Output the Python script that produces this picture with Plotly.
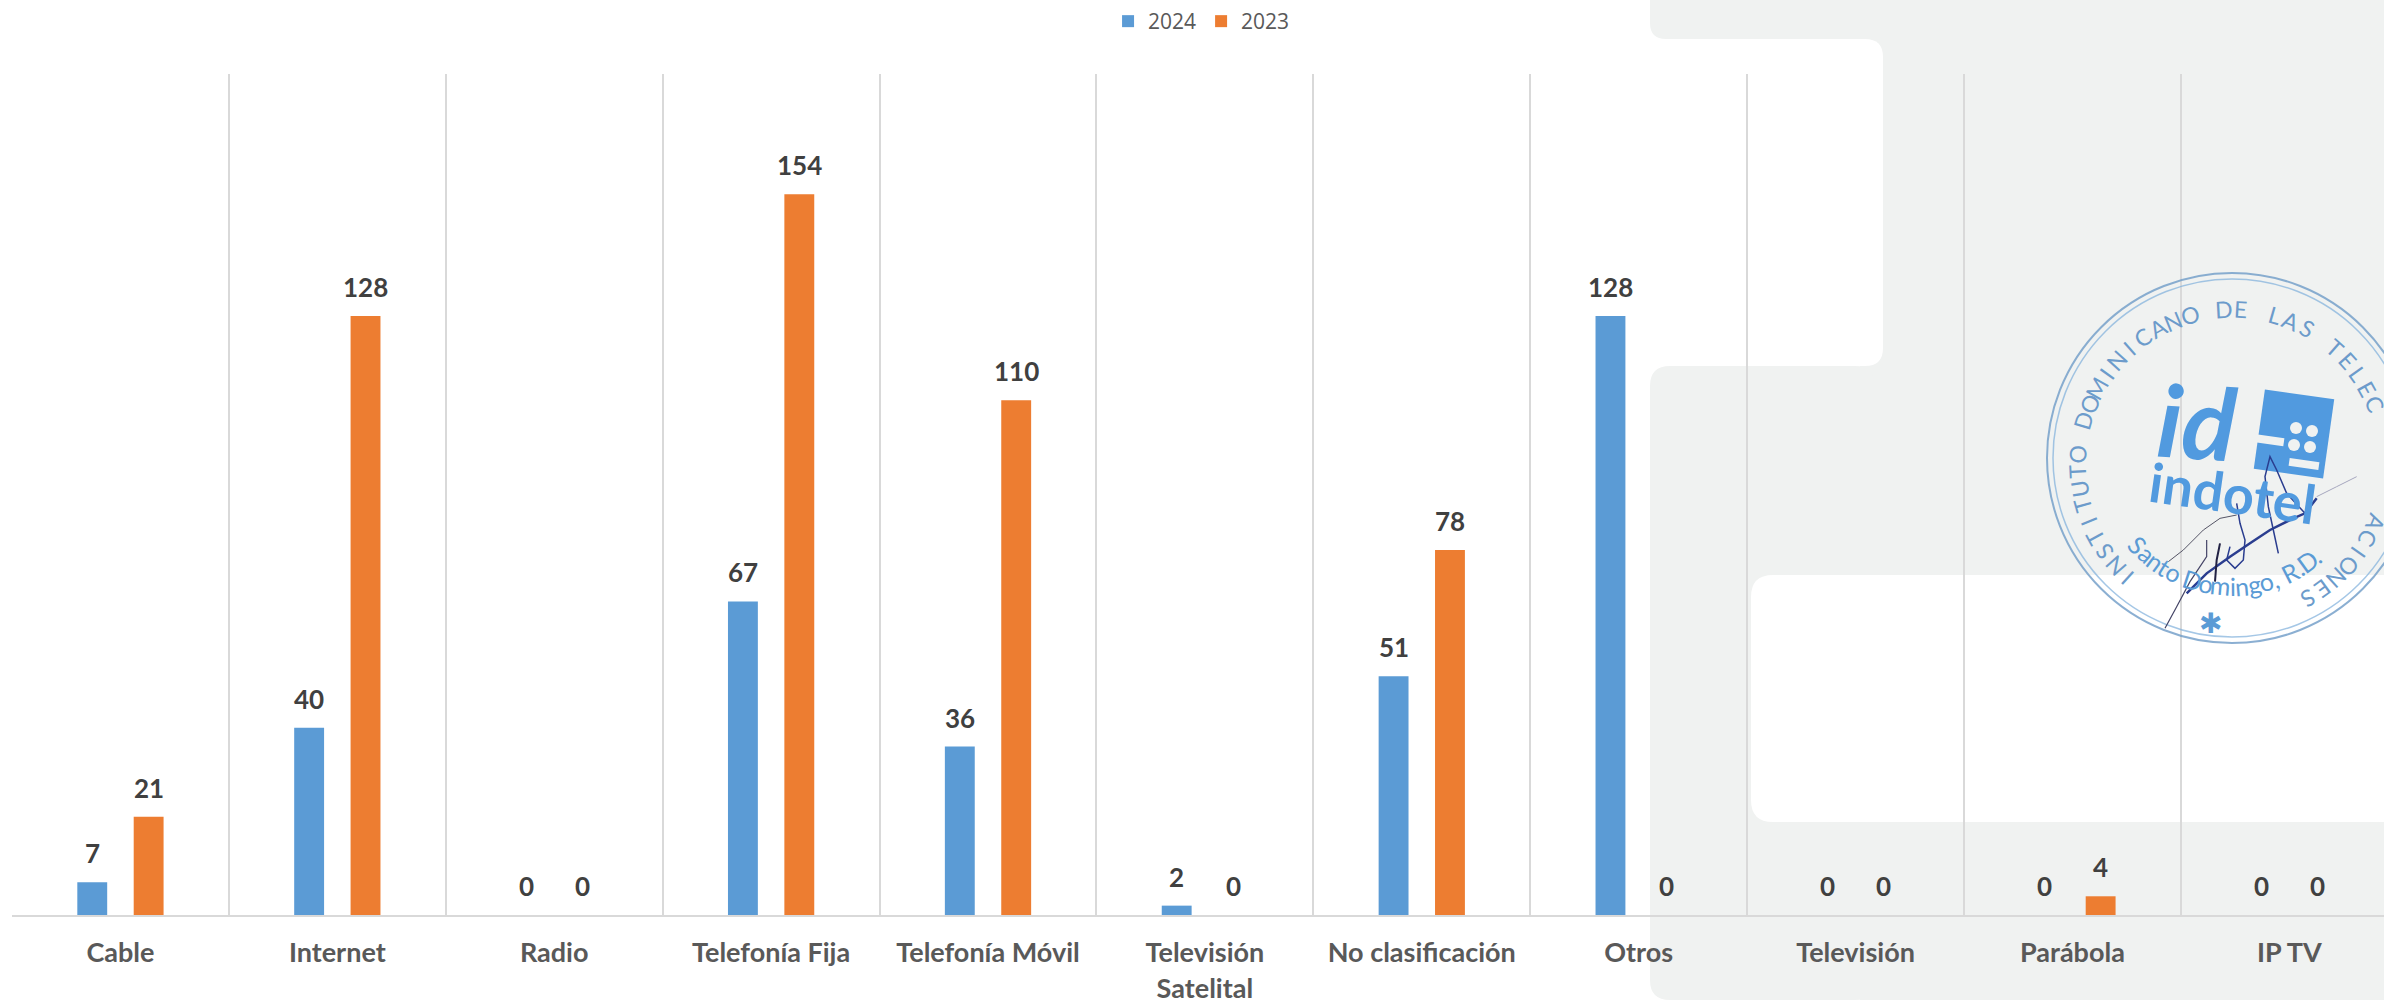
import math
import plotly.graph_objects as go

categories = ["Cable", "Internet", "Radio", "Telefonía Fija", "Telefonía Móvil",
              "Televisión<br>Satelital", "No clasificación", "Otros", "Televisión",
              "Parábola", "IP TV"]
values_2024 = [7, 40, 0, 67, 36, 2, 51, 128, 0, 0, 0]
values_2023 = [21, 128, 0, 154, 110, 0, 78, 0, 0, 4, 0]
series_names = ["2024", "2023"]

W, H = 2384, 1000
ML, MT, MB = 12, 74, 85
PW, PH = W - ML, H - MT - MB
BLUE, ORANGE = "#5B9BD5", "#ED7D31"
PANEL = "#F0F2F1"
STAMP_TEXT = "#6C9BCB"
LOGO = "#519ADF"
INK = "#2A3D8F"


def fx(x):
    return (x - ML) / PW


def fy(y):
    return (H - MB - y) / PH


fig = go.Figure()
annotations = []
for name, vals, col, shift in ((series_names[0], values_2024, BLUE, -28.2),
                               (series_names[1], values_2023, ORANGE, 28.2)):
    fig.add_bar(name=name, x=categories, y=vals, marker_color=col, marker_line_width=0)
    for c, v in zip(categories, vals):
        annotations.append(dict(x=c, y=v, xref="x", yref="y", text=str(v), showarrow=False,
                                xshift=shift, yshift=29, xanchor="center", yanchor="middle",
                                font=dict(family="Lato", size=26, color="#404040", weight="bold")))


def panel(x0, y0, x1, y1, r, fill):
    ax, ay, bx, by = fx(x0), fy(y0), fx(x1), fy(y1)
    rx, ry = r / PW, r / PH
    path = (f"M{ax+rx},{ay} L{bx-rx},{ay} Q{bx},{ay} {bx},{ay-ry} L{bx},{by+ry} Q{bx},{by} {bx-rx},{by} "
            f"L{ax+rx},{by} Q{ax},{by} {ax},{by+ry} L{ax},{ay-ry} Q{ax},{ay} {ax+rx},{ay} Z")
    return dict(type="path", path=path, xref="paper", yref="paper", fillcolor=fill,
                line_width=0, layer="below")


shapes = [
    panel(1860, -40, 2500, 1040, 0, PANEL),
    panel(1630, 39, 1883, 366, 18, "#FFFFFF"),
    panel(1650, -40, 1875, 39, 16, PANEL),
    panel(1650, 366, 1875, 1000, 20, PANEL),
    panel(1751, 575, 2500, 822, 22, "#FFFFFF"),
]

# stamp rings
SX, SY = 2232, 458


def ring(rad, wd, col, op):
    shapes.append(dict(type="circle", xref="paper", yref="paper",
                       x0=fx(SX - rad), x1=fx(SX + rad), y0=fy(SY + rad), y1=fy(SY - rad),
                       line=dict(color=col, width=wd), opacity=op, layer="above"))


ring(185, 2, "#6F9CC8", 0.8)
ring(179, 1.5, "#7FB0DC", 0.7)


def ann(x, y, text, size, color, rot=0, weight="normal", family="Lato", op=1):
    annotations.append(dict(x=fx(x), y=fy(y), xref="paper", yref="paper", text=text, showarrow=False,
                            textangle=rot, xanchor="center", yanchor="middle", opacity=op,
                            font=dict(family=family, size=size, color=color, weight=weight)))


ring_text = "INSTITUTO DOMINICANO DE LAS TELECOMUNICACIONES"
for i, ch in enumerate(ring_text):
    a = 222.5 + 6.4 * i
    x = SX + 155 * math.sin(math.radians(a))
    y = SY + 6 - 155 * math.cos(math.radians(a))
    if ch != " " and x < W - 6:
        ann(x, y, ch, 23, STAMP_TEXT, rot=a)

city_text = "Santo Domingo, R.D."
advance = {"i": 0.55, ".": 0.5, ",": 0.5, " ": 0.6, "m": 1.5, "D": 1.2, "R": 1.1, "t": 0.75}
steps = [advance.get(ch, 1.0) for ch in city_text]
total = sum(steps)
pos = 0.0
for ch, st in zip(city_text, steps):
    a = 230 - 92 * (pos + st / 2) / total
    pos += st
    x = SX + 128 * math.sin(math.radians(a))
    y = SY - 128 * math.cos(math.radians(a))
    if ch != " ":
        ann(x, y, ch, 25, BLUE, rot=a - 180)

ann(2197, 420, "<i>id</i>", 100, LOGO, rot=4, weight="bold")
ann(2232, 492, "indotel", 54, LOGO, rot=8, weight="bold")
ann(2210, 623, "✱", 28, BLUE, family="DejaVu Sans")


# logo square, tilted
def tilted(cx, cy, w, h, angle, fill):
    t = math.radians(angle)
    pts = [(-w / 2, -h / 2), (w / 2, -h / 2), (w / 2, h / 2), (-w / 2, h / 2)]
    xy = [(cx + a * math.cos(t) - b * math.sin(t), cy + a * math.sin(t) + b * math.cos(t)) for a, b in pts]
    path = "M" + " L".join(f"{fx(x)},{fy(y)}" for x, y in xy) + " Z"
    return dict(type="path", path=path, xref="paper", yref="paper", fillcolor=fill, line_width=0, layer="above")


shapes.append(tilted(2294, 434, 70, 80, 8, LOGO))
shapes.append(tilted(2268, 440, 32, 8, 8, PANEL))
shapes.append(tilted(2304, 464, 30, 8, 8, PANEL))
for dx, dy in ((2296, 428), (2312, 431), (2294, 445), (2310, 447)):
    shapes.append(dict(type="circle", xref="paper", yref="paper", x0=fx(dx - 6), x1=fx(dx + 6),
                       y0=fy(dy + 6), y1=fy(dy - 6), fillcolor=PANEL, line_width=0, layer="above"))


# signature strokes (zoom-space coordinates of the stamp)
def stroke(pts, width, color=INK, op=1.0):
    xy = [(x / 3 + 2030, y / 3 + 260) for x, y in pts]
    path = "M" + " L".join(f"{fx(x)},{fy(y)}" for x, y in xy)
    shapes.append(dict(type="path", path=path, xref="paper", yref="paper", layer="above", opacity=op,
                       line=dict(color=color, width=width)))


stroke([(470, 1000), (530, 940), (600, 890), (660, 850), (720, 810), (790, 775), (825, 760), (860, 715)], 2.5)
stroke([(825, 760), (770, 700), (740, 630), (720, 590), (705, 650), (715, 740), (730, 810), (745, 880)], 1.5)
stroke([(620, 730), (630, 790), (645, 840), (640, 900), (615, 925), (590, 900), (600, 860)], 1.5)
stroke([(570, 850), (560, 900), (555, 965)], 2, "#222244")
stroke([(405, 1105), (440, 1040), (480, 965), (530, 890), (530, 840)], 1.2, "#444466")
stroke([(415, 905), (460, 870), (520, 810), (570, 775), (620, 765)], 1, "#555566")
stroke([(860, 710), (920, 680), (980, 650)], 1, "#8888AA", 0.7)

fig.update_layout(
    width=W, height=H, margin=dict(l=ML, r=0, t=MT, b=MB), autosize=False,
    paper_bgcolor="#FFFFFF", plot_bgcolor="rgba(0,0,0,0)",
    barmode="group", bargap=0.48, bargroupgap=0.47,
    showlegend=True,
    legend=dict(orientation="h", x=0.5015, xanchor="center", y=0.999, yref="container", yanchor="top",
                font=dict(family="Open Sans", size=21, color="#595959"), itemwidth=30,
                traceorder="normal"),
    shapes=shapes, annotations=annotations,
    font=dict(family="Lato"),
)
fig.update_xaxes(type="category", range=[-0.5, 10.4365], tickson="boundaries", showgrid=True,
                 gridcolor="#D9D9D9", gridwidth=1.5, showline=True, linecolor="#D9D9D9", linewidth=2,
                 ticks="", tickangle=0, automargin=False, ticklabelstandoff=13,
                 tickfont=dict(family="Lato", size=27, color="#595959", weight="bold"))
fig.update_yaxes(range=[0, 179.7], visible=False, showgrid=False, zeroline=False)

fig.write_html("out.html", config=dict(displayModeBar=False),
               post_script="document.body.style.margin='0';document.body.style.overflow='hidden';")
